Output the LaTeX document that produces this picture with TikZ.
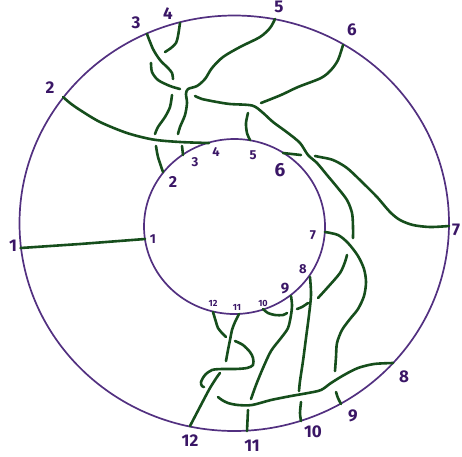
\documentclass[tikz,border=0pt]{standalone}
\usepackage{fontspec}
\setsansfont{Fira Sans}
\definecolor{ringc}{RGB}{82,48,128}
\definecolor{labc}{RGB}{58,22,102}
\definecolor{knotc}{RGB}{22,78,28}
\begin{document}
\begin{tikzpicture}[x=1pt,y=-1pt,
  ring/.style={draw=ringc,line width=1.7pt},
  strand/.style={draw=knotc,line width=2.6pt,line cap=round,line join=round},
  olab/.style={text=labc,font=\sffamily\bfseries\fontsize{17}{17}\selectfont,inner sep=0pt},
  ilab/.style={text=labc,font=\sffamily\bfseries\fontsize{13}{13}\selectfont,inner sep=0pt},
  slab/.style={text=labc,font=\sffamily\bfseries\fontsize{9}{9}\selectfont,inner sep=0pt}]
\useasboundingbox (0,0) rectangle (462,456);

% rings
\draw[ring] (234.25,223.25) ellipse [x radius=214.75pt, y radius=207.75pt];
\draw[ring] (234.5,226.5) ellipse [x radius=90.5pt, y radius=87.5pt];

% end points on the rings
\coordinate (o1) at (20.5,248);  \coordinate (i1) at (145,239);
\coordinate (o2) at (63,97);     \coordinate (i4) at (209,143);
\coordinate (o3) at (147,34);    \coordinate (i2) at (163,172);
\coordinate (o4) at (180,23);    \coordinate (i10) at (263,309);
\coordinate (o5) at (275,19);    \coordinate (i3) at (183,155);
\coordinate (o6) at (343,45);    \coordinate (i5) at (250,140);
\coordinate (o7) at (449,226);   \coordinate (i6) at (283,153);
\coordinate (i7) at (325,232);   \coordinate (o9) at (341,404);
\coordinate (i8) at (310,277);   \coordinate (o10) at (301,421);
\coordinate (i9) at (291,296);   \coordinate (o11) at (247,431);
\coordinate (i11) at (239,314);  \coordinate (o12) at (190,426);
\coordinate (i12) at (213,312);  \coordinate (o8) at (393,363);

% 1 -> 1
\draw[strand] (o1) -- (80,244) -- (i1);
% outer 2 -> inner 4
\draw[strand] plot[smooth] coordinates {(o2) (70,103) (80,110) (100,122) (127,133) (153,139.5) (180,142) (i4)};
% outer 3 -> inner 2
\draw[strand] plot[smooth] coordinates {(o3) (153,49) (160,60) (168,68) (172,73) (173,79)};
\draw[strand] plot[smooth] coordinates {(172,95) (170,107) (165,117) (158,127) (155,134)};
\draw[strand] plot[smooth] coordinates {(156,146) (158,157) (i2)};
% outer 4 -> inner 10
\draw[strand] plot[smooth] coordinates {(o4) (178,36) (176,43) (171,48) (165,52)};
\draw[strand] plot[smooth] coordinates {(151,63) (152,72) (158,80) (170,86) (180,89)};
\draw[strand] plot[smooth] coordinates {(195,96) (202,99) (217,102) (230,104) (252,105.5) (262,112) (273,122) (288,133) (300,143) (308,155) (317,163) (327,175) (337,187) (347,200) (352,213) (353,227) (353,238)};
\draw[strand] plot[smooth] coordinates {(347,255) (345,262) (340,273) (328,287) (318,298)};
\draw[strand] plot[smooth] coordinates {(308,303) (302,307) (297,309)};
\draw[strand] plot[smooth] coordinates {(287,313) (283,315) (275,315) (268,313) (i10)};
% outer 5 -> inner 3
\draw[strand] plot[smooth] coordinates {(o5) (270,28) (260,37) (240,47) (223,57) (212,68) (205,79) (197,86) (188,89) (186,94) (187,103) (185,115) (180,127) (178,134)};
\draw[strand] plot[smooth] coordinates {(182,146) (i3)};
% outer 6 -> inner 5
\draw[strand] plot[smooth] coordinates {(o6) (338,60) (331,70) (321,78) (298,87) (281,95) (261,103)};
\draw[strand] plot[smooth] coordinates {(248,113) (246,123) (247,133) (i5)};
% outer 7 -> inner 6
\draw[strand] plot[smooth] coordinates {(o7) (430,227) (413,225) (400,220) (390,212) (377,197) (363,183) (347,168) (333,160) (320,157) (315,156)};
\draw[strand] plot[smooth] coordinates {(301,155) (i6)};
% inner 7 -> outer 9
\draw[strand] plot[smooth] coordinates {(i7) (338,235) (348,243) (358,256) (364,269) (366,282) (364,296) (358,309) (350,319) (342,330) (337,343) (336,357) (335,371)};
\draw[strand] plot[smooth] coordinates {(336,392) (338,398) (o9)};
% inner 8 -> outer 10
\draw[strand] plot[smooth] coordinates {(i8) (311,295) (309,315) (306,338) (303,361) (300,381) (299,391)};
\draw[strand] plot[smooth] coordinates {(301,402) (300,413) (o10)};
% inner 9 -> outer 11
\draw[strand] plot[smooth] coordinates {(i9) (292,305) (291,315) (288,328) (281,338) (271,351) (263,368) (256,385) (251,399)};
\draw[strand] (248,410) -- (o11);
% inner 11 -> outer 12
\draw[strand] plot[smooth] coordinates {(i11) (235,322) (232,330) (230,340) (228,350) (226,361)};
\draw[strand] plot[smooth] coordinates {(220,373) (217,377) (210,388) (202,403) (o12)};
% inner 12 -> outer 8
\draw[strand] plot[smooth] coordinates {(i12) (216,322) (218,328) (222,333) (226,337)};
\draw[strand] plot[smooth] coordinates {(235,341) (243,345) (250,352) (253,358) (253,365) (247,368) (235,369) (222,369) (212,370) (205,375) (201,382) (202,386) (204,387)};
\draw[strand] plot[smooth] coordinates {(218,397) (222,400) (228,403) (238,405) (252,405) (271,400) (291,396) (308,393) (321,390) (331,383) (344,375) (358,368) (374,364) (o8)};

% outer labels
\node[olab] (lo1) at (13,246) {1};
\node[olab] (lo2) at (50,88) {2};
\node[olab] (lo3) at (136,23) {3};
\node[olab] (lo4) at (168,14) {4};
\node[olab] (lo5) at (279,7) {5};
\node[olab] (lo6) at (352,30) {6};
\node[olab] (lo7) at (456,230) {7};
\node[olab] (lo8) at (404,377) {8};
\node[olab] (lo9) at (353,416) {9};
\node[olab] (lo10) at (313,432) {10};
\node[olab] (lo11) at (252,446) {11};
\node[olab] (lo12) at (190,441) {12};

% inner labels
\node[ilab] (li1) at (153,239) {1};
\node[ilab,font=\sffamily\bfseries\fontsize{16}{16}\selectfont] (li2) at (173,182) {2};
\node[ilab] (li3) at (195,162) {3};
\node[ilab] (li4) at (216,152) {4};
\node[ilab] (li5) at (253,155) {5};
\node[ilab,font=\sffamily\bfseries\fontsize{19}{19}\selectfont] (li6) at (280,170) {6};
\node[ilab] (li7) at (313,235) {7};
\node[ilab] (li8) at (303,269) {8};
\node[ilab,font=\sffamily\bfseries\fontsize{15}{15}\selectfont] (li9) at (285,289) {9};
\node[slab] (li10) at (263,303) {10};
\node[slab] (li11) at (237,307) {11};
\node[slab] (li12) at (213,303) {12};
\end{tikzpicture}
\end{document}
